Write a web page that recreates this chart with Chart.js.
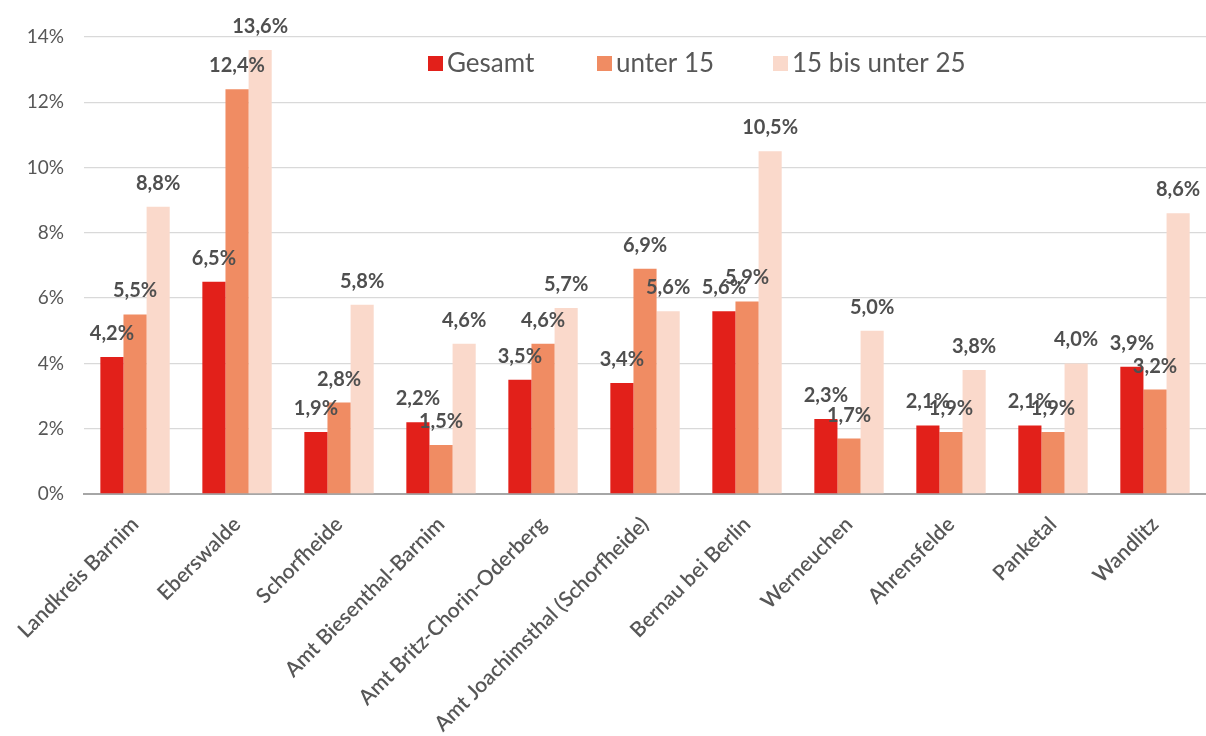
<!DOCTYPE html>
<html>
<head>
<meta charset="utf-8">
<script src="https://cdn.jsdelivr.net/npm/chart.js@4.4.1/dist/chart.umd.min.js"></script>
<style>
  html, body { margin: 0; padding: 0; background: #ffffff; }
  #wrap { width: 1206px; height: 736px; position: relative; }
</style>
</head>
<body>
<div id="wrap"><canvas id="c" width="1206" height="736"></canvas></div>
<script>
const categories = [
  "Landkreis Barnim", "Eberswalde", "Schorfheide", "Amt Biesenthal-Barnim",
  "Amt Britz-Chorin-Oderberg", "Amt Joachimsthal (Schorfheide)", "Bernau bei Berlin",
  "Werneuchen", "Ahrensfelde", "Panketal", "Wandlitz"
];
const seriesNames = ["Gesamt", "unter 15", "15 bis unter 25"];
const gesamt   = [4.2, 6.5, 1.9, 2.2, 3.5, 3.4, 5.6, 2.3, 2.1, 2.1, 3.9];
const unter15  = [5.5, 12.4, 2.8, 1.5, 4.6, 6.9, 5.9, 1.7, 1.9, 1.9, 3.2];
const bis25    = [8.8, 13.6, 5.8, 4.6, 5.7, 5.6, 10.5, 5.0, 3.8, 4.0, 8.6];
const yTicks   = [0, 2, 4, 6, 8, 10, 12, 14];

const colors = ["#e2201a", "#f08c63", "#fad9cb"];
const textColor = "#575757";
const FONT = "Lato, 'Open Sans', sans-serif";

const fmt = v => v.toFixed(1).replace(".", ",") + "%";

const dataLabels = {
  id: "dataLabels",
  afterDatasetsDraw(chart) {
    const ctx = chart.ctx;
    ctx.save();
    ctx.font = "bold 20px " + FONT;
    ctx.fillStyle = "#4f4f4f";
    ctx.textAlign = "center";
    ctx.textBaseline = "alphabetic";
    chart.data.datasets.forEach((ds, i) => {
      const meta = chart.getDatasetMeta(i);
      meta.data.forEach((bar, j) => {
        ctx.fillText(fmt(ds.data[j]), bar.x, bar.y - 17);
      });
    });
    ctx.restore();
  }
};

const customLegend = {
  id: "customLegend",
  afterDraw(chart) {
    const ctx = chart.ctx;
    const xs = [428, 597, 773];
    const y = 63;
    ctx.save();
    ctx.font = "26px " + FONT;
    ctx.textBaseline = "middle";
    ctx.textAlign = "left";
    chart.data.datasets.forEach((ds, i) => {
      ctx.fillStyle = ds.backgroundColor;
      ctx.fillRect(xs[i], y - 7, 15, 15);
      ctx.fillStyle = textColor;
      ctx.fillText(ds.label, xs[i] + 19, y + 1);
    });
    ctx.restore();
  }
};

new Chart(document.getElementById("c"), {
  type: "bar",
  data: {
    labels: categories,
    datasets: [
      { label: seriesNames[0], data: gesamt,  backgroundColor: colors[0] },
      { label: seriesNames[1], data: unter15, backgroundColor: colors[1] },
      { label: seriesNames[2], data: bis25,   backgroundColor: colors[2] }
    ]
  },
  options: {
    responsive: false,
    animation: false,
    devicePixelRatio: 1,
    layout: { padding: { top: 37, right: 0, bottom: 0, left: 0 } },
    datasets: { bar: { categoryPercentage: 0.68, barPercentage: 1.0 } },
    plugins: { legend: { display: false }, tooltip: { enabled: false } },
    scales: {
      x: {
        grid: { display: false, drawTicks: false },
        border: { display: true, color: "#a6a6a6", width: 2 },
        ticks: {
          color: textColor,
          font: { family: FONT, size: 21, weight: "600" },
          maxRotation: 45, minRotation: 45, autoSkip: false, padding: 18
        },
        afterFit(axis) { axis.height = 242; }
      },
      y: {
        min: 0, max: 14,
        afterBuildTicks(axis) { axis.ticks = yTicks.map(v => ({ value: v })); },
        grid: {
          color: ctx => ctx.tick && ctx.tick.value === 0 ? "rgba(0,0,0,0)" : "#d9d9d9",
          lineWidth: 1.3, drawTicks: false
        },
        border: { display: false },
        ticks: {
          color: textColor,
          font: { family: FONT, size: 19 },
          padding: 20,
          callback: v => v + "%"
        },
        afterFit(axis) { axis.width = 80; }
      }
    }
  },
  plugins: [dataLabels, customLegend]
});
</script>
</body>
</html>
